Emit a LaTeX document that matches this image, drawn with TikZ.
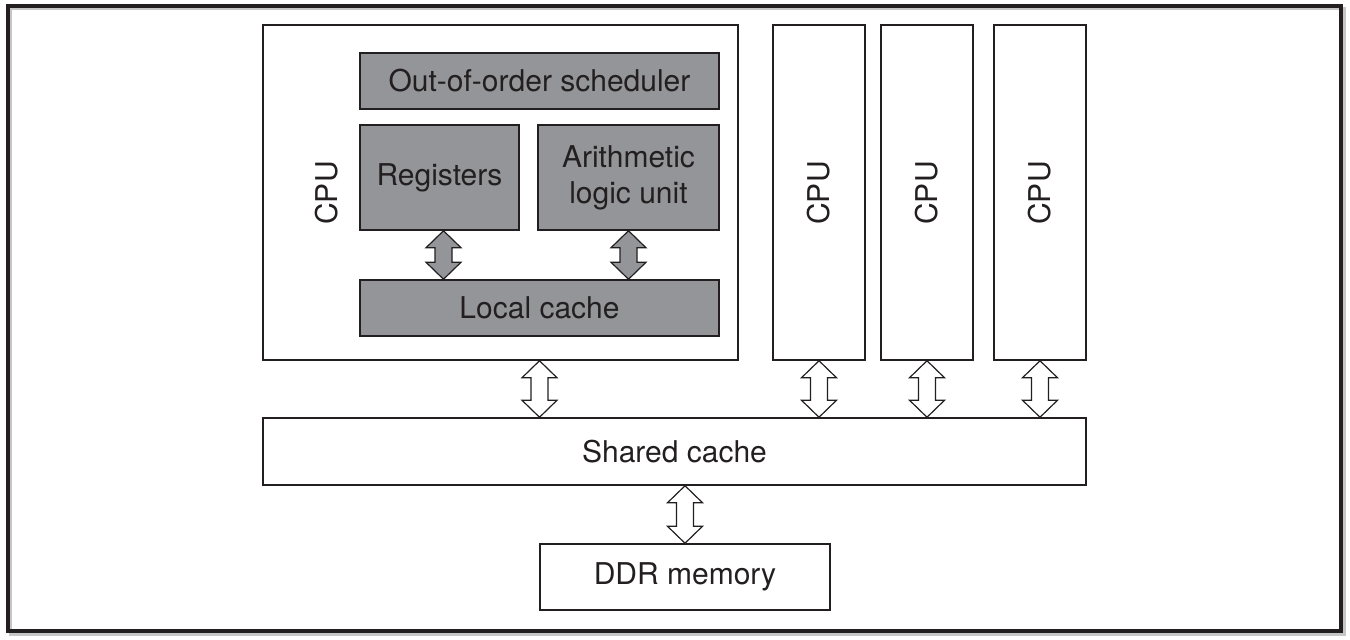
\documentclass[tikz,border=0pt]{standalone}
\usepackage{fontspec}
\setmainfont{TeX Gyre Heros}
\usetikzlibrary{calc}
\definecolor{boxgray}{HTML}{939598}
\definecolor{inkline}{HTML}{231F20}

% block double arrow between two points (top tip, bottom tip)
\newcommand{\blockarrow}[3][]{%
  \draw[#1] let \p1=#2, \p2=#3 in
    (\x1,\y1) -- (\x1+17.5pt,\y1-17pt) -- (\x1+8.5pt,\y1-17pt)
    -- (\x1+8.5pt,\y2+17pt) -- (\x1+17.5pt,\y2+17pt) -- (\x1,\y2)
    -- (\x1-17.5pt,\y2+17pt) -- (\x1-8.5pt,\y2+17pt)
    -- (\x1-8.5pt,\y1-17pt) -- (\x1-17.5pt,\y1-17pt) -- cycle;}

\begin{document}
\begin{tikzpicture}[x=1pt,y=-1pt,font=\fontsize{30}{36}\selectfont,text=inkline,
  plainbox/.style={draw=inkline,line width=1.5pt,fill=white,inner sep=0pt},
  graybox/.style={plainbox,fill=boxgray},
  grayarrow/.style={draw=inkline,line width=1.2pt,fill=boxgray},
  whitearrow/.style={draw=inkline,line width=1.2pt,fill=white}]
\useasboundingbox (0,0) rectangle (1350,640);

%Shape: Rectangle [frame]
\draw[gray!45,line width=3pt] (10,8) rectangle (1344,634);
\draw[inkline,line width=3.5pt] (8,6) rectangle (1341,631);

%Shape: Rectangle [cpu cores]
\node[plainbox,minimum width=475pt,minimum height=335pt] (cpu0) at (500.5,192.5) {};
\node[plainbox,minimum width=92pt,minimum height=335pt] (cpu1) at (819,192.5) {};
\node[plainbox,minimum width=92pt,minimum height=335pt] (cpu2) at (927,192.5) {};
\node[plainbox,minimum width=92pt,minimum height=335pt] (cpu3) at (1040,192.5) {};

%Shape: Rectangle [inside first core]
\node[graybox,minimum width=359pt,minimum height=56pt] (sched) at (539.5,81) {Out-of-order scheduler};
\node[graybox,minimum width=159pt,minimum height=105pt] (reg) at (439.5,177.5) {Registers};
\node[graybox,minimum width=181pt,minimum height=105pt,align=center] (alu) at (628.5,177.5) {Arithmetic\\logic unit};
\node[graybox,minimum width=359pt,minimum height=56pt] (lcache) at (539.5,308) {Local cache};

%Shape: Rectangle [memory]
\node[plainbox,minimum width=823pt,minimum height=67pt] (shared) at (674.5,451.5) {Shared cache};
\node[plainbox,minimum width=290pt,minimum height=66pt] (ddr) at (685,577) {DDR memory};

% Text Node
\node[rotate=90] (lbl0) at (327,193) {CPU};
\node[rotate=90] (lbl1) at (cpu1 |- lbl0) {CPU};
\node[rotate=90] (lbl2) at (cpu2 |- lbl0) {CPU};
\node[rotate=90] (lbl3) at (cpu3 |- lbl0) {CPU};

%Block arrows
\blockarrow[grayarrow]{($(reg.south)+(4,0)$)}{($(reg.south |- lcache.north)+(4,0)$)}
\blockarrow[grayarrow]{(alu.south)}{(alu.south |- lcache.north)}
\blockarrow[whitearrow]{(lcache.south |- cpu0.south)}{(lcache.south |- shared.north)}
\blockarrow[whitearrow]{(cpu1.south)}{(cpu1.south |- shared.north)}
\blockarrow[whitearrow]{(cpu2.south)}{(cpu2.south |- shared.north)}
\blockarrow[whitearrow]{(cpu3.south)}{(cpu3.south |- shared.north)}
\blockarrow[whitearrow]{(ddr.north |- shared.south)}{(ddr.north)}

\end{tikzpicture}
\end{document}
